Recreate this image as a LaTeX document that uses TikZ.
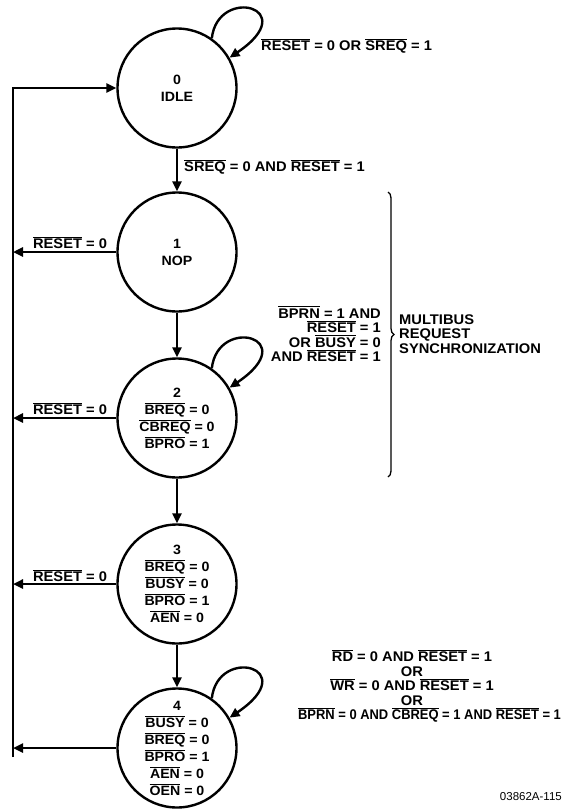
\documentclass[tikz,border=0pt]{standalone}
\usepackage{fontspec}
\usepackage{graphicx}
\setmainfont[FakeStretch=1.05]{Liberation Sans}
\newfontfamily\fignofont{Liberation Sans}
\usetikzlibrary{arrows.meta,decorations.pathreplacing}
\newcommand\ovl[1]{\vbox{\hrule height 0.9pt\kern1.2pt\hbox{#1}}}
\tikzset{
  st/.style={circle, draw, line width=2.4pt, minimum size=119pt, inner sep=0pt, align=center,
    font=\fontsize{13.5}{17}\selectfont\bfseries},
  arr/.style={line width=2.4pt, line join=miter, -{Triangle[length=10pt,width=9pt]}},
  lbl/.style={font=\fontsize{14}{14.5}\selectfont\bfseries, inner sep=0pt},
  figno/.style={font=\fignofont\fontsize{11.5}{12}\selectfont, inner sep=0pt}
}
\begin{document}
\begin{tikzpicture}[x=1pt,y=-1pt]
\useasboundingbox (0,0) rectangle (563,809);
% states
\node[st] (c0) at (177,88) {0\\IDLE};
\node[st] (c1) at (177,252) {1\\NOP};
\node[st] (c2) at (177,418) {2\\\ovl{BREQ} = 0\\\ovl{CBREQ} = 0\\\ovl{BPRO} = 1};
\node[st] (c3) at (177,584) {3\\\ovl{BREQ} = 0\\\ovl{BUSY} = 0\\\ovl{BPRO} = 1\\\ovl{AEN} = 0};
\node[st] (c4) at (177,748) {4\\\ovl{BUSY} = 0\\\ovl{BREQ} = 0\\\ovl{BPRO} = 1\\\ovl{AEN} = 0\\\ovl{OEN} = 0};
% forward arrows
\draw[arr] (c0) -- (c1);
\draw[arr] (c1) -- (c2);
\draw[arr] (c2) -- (c3);
\draw[arr] (c3) -- (c4);
% return line
\coordinate (ltop) at (13,88);
\coordinate (lbot) at (13,757);
\draw[arr] (lbot) -- (ltop) -- (c0.west);
\draw[arr] (c1.west) -- (c1.west -| ltop);
\draw[arr] (c2.west) -- (c2.west -| ltop);
\draw[arr] (c3.west) -- (c3.west -| ltop);
\draw[arr] (c4.west) -- (c4.west -| ltop);
% self loops
\draw[arr] (c0.55) .. controls +(6,-53) and +(74,-50) .. (c0.30);
\draw[arr] (c2.55) .. controls +(6,-53) and +(74,-50) .. (c2.30);
\draw[arr] (c4.55) .. controls +(6,-53) and +(74,-50) .. (c4.30);
% labels
\node[lbl, anchor=west] (t0) at (261,46) {\ovl{RESET} = 0 OR \ovl{SREQ} = 1};
\node[lbl, anchor=west] (t01) at (184,167) {\ovl{SREQ} = 0 AND \ovl{RESET} = 1};
\node[lbl] (r1) at (70,243) {\ovl{RESET} = 0};
\node[lbl] (r2) at (70,409) {\ovl{RESET} = 0};
\node[lbl] (r3) at (70,576) {\ovl{RESET} = 0};
\node[lbl, anchor=east, align=right] (t2) at (381,334) {\ovl{BPRN} = 1 AND\\\ovl{RESET} = 1\\OR \ovl{BUSY} = 0\\AND \ovl{RESET} = 1};
\coordinate (b1) at (388,192);
\coordinate (b2) at (388,477);
\draw[line width=1.3pt, decorate, decoration={brace, amplitude=6pt}] (b1) -- (b2);
\node[lbl, anchor=west, align=left] (t3) at (399,334) {MULTIBUS\\REQUEST\\SYNCHRONIZATION};
\node[lbl, align=center] (t4) at (412,686) {\ovl{RD} = 0 AND \ovl{RESET} = 1\\OR\\\ovl{WR} = 0 AND \ovl{RESET} = 1\\OR\\\hspace*{35pt}\scalebox{0.88}[1]{\ovl{BPRN} = 0 AND \ovl{CBREQ} = 1 AND \ovl{RESET} = 1}};
\node[figno, anchor=east] (fig) at (562,797) {03862A-115};
\end{tikzpicture}
\end{document}
